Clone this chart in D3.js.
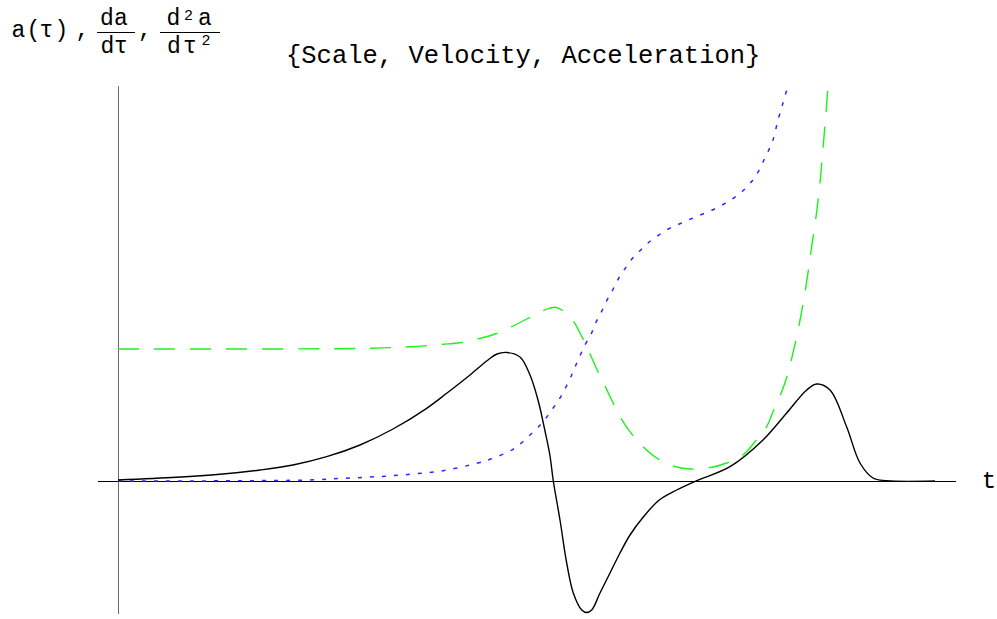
<!DOCTYPE html>
<html>
<head>
<meta charset="utf-8">
<script src="https://cdn.jsdelivr.net/npm/d3@7"></script>
<style>
  html, body { margin: 0; padding: 0; background: #fff; }
  svg text { font-family: "Liberation Mono", "Courier New", monospace; fill: #000; }
</style>
</head>
<body>
<svg id="chart" width="997" height="619"></svg>
<script>
// ---- data (arbitrary units) ----
const titleText = "{Scale, Velocity, Acceleration}";
const xAxisLabel = "t";

// black solid curve
const solidT = [0, 5.87, 10.2, 14.2, 17.5, 20.87, 24.2, 27.5, 30.87, 32.87, 35.2, 37, 37.9, 38.9, 40.2, 41.2, 42, 42.7, 43.2, 43.53, 44.2, 44.87, 45.53, 46.37, 46.87, 47.37, 48.2, 49.2, 50.2, 51.2, 52.53, 54.13, 55.87, 57.87, 61.2, 64.5, 66.87, 68.87, 69.87, 71.2, 72.87, 74.2, 75.5, 76.87, 81.7];
const solidV = [0.01, 0.037, 0.067, 0.11, 0.16, 0.243, 0.36, 0.52, 0.727, 0.877, 1.06, 1.21, 1.27, 1.285, 1.24, 1.06, 0.81, 0.5, 0.25, 0, -0.39, -0.82, -1.12, -1.29, -1.315, -1.29, -1.12, -0.92, -0.72, -0.54, -0.36, -0.19, -0.09, 0.003, 0.143, 0.41, 0.68, 0.91, 0.97, 0.91, 0.54, 0.18, 0.03, 0.003, 0];

// blue dotted curve
const dottedT = [0, 19.2, 22.5, 25.87, 29.2, 32.5, 35.87, 37.2, 39.5, 41.2, 42.5, 43.5, 44.37, 45.37, 45.87, 46.7, 47.37, 47.8, 48.37, 48.87, 49.47, 50.03, 50.7, 51.37, 52.2, 53.03, 54.03, 55.03, 56.13, 57.2, 58.3, 59.43, 60.53, 61.53, 62.47, 63.3, 63.97, 64.5, 65, 65.5, 66, 66.5, 66.9];
const dottedV = [0, 0.01, 0.027, 0.043, 0.067, 0.103, 0.177, 0.217, 0.317, 0.46, 0.593, 0.727, 0.86, 1.06, 1.177, 1.36, 1.483, 1.587, 1.697, 1.803, 1.91, 2.02, 2.123, 2.217, 2.303, 2.383, 2.457, 2.52, 2.57, 2.617, 2.663, 2.71, 2.767, 2.827, 2.9, 2.987, 3.083, 3.19, 3.293, 3.41, 3.61, 3.78, 3.92];

// green dashed curve
const dashedT = [0, 25.2, 29.2, 32.5, 34.2, 35.87, 37.7, 39.37, 40.87, 42.5, 43.7, 44.37, 45.5, 46.2, 46.87, 47.87, 48.7, 49.37, 50.2, 51.2, 52.5, 53.87, 55.5, 57.2, 59, 60.87, 62.5, 63.7, 64.87, 65.5, 66.37, 66.85, 67.5, 68.27, 68.87, 69.37, 69.87, 70.2, 70.5, 70.8, 71];
const dashedV = [1.32, 1.327, 1.343, 1.367, 1.383, 1.417, 1.47, 1.543, 1.62, 1.703, 1.737, 1.71, 1.603, 1.48, 1.343, 1.12, 0.95, 0.81, 0.643, 0.493, 0.343, 0.23, 0.15, 0.12, 0.13, 0.18, 0.26, 0.393, 0.543, 0.693, 0.893, 1.03, 1.28, 1.643, 1.993, 2.343, 2.693, 2.98, 3.33, 3.68, 3.96];

// ---- drawing ----
const svg = d3.select("#chart");
const x = d3.scaleLinear().domain([0, 81.7]).range([118, 935]);
const y = d3.scaleLinear().domain([-1.32, 3.96]).range([613, 85]);

// axes (no ticks, Mathematica style crossing at origin)
const xAxisScale = d3.scaleLinear().domain([-2.1, 83.7]).range([x(-2.1), x(83.7)]);
svg.append("g")
  .attr("transform", `translate(0,${y(0)})`)
  .call(d3.axisBottom(xAxisScale).tickValues([]).tickSizeOuter(0))
  .call(g => g.select(".domain").attr("stroke", "#000").attr("stroke-width", 1).attr("shape-rendering", "crispEdges"));

svg.append("g")
  .attr("transform", `translate(${x(0)},0)`)
  .call(d3.axisLeft(y).tickValues([]).tickSizeOuter(0))
  .call(g => g.select(".domain").attr("stroke", "#6a6a6a").attr("stroke-width", 1).attr("shape-rendering", "crispEdges"));

const line = d3.line()
  .x(d => x(d[0]))
  .y(d => y(d[1]))
  .curve(d3.curveCatmullRom.alpha(0.5));

const zip = (a, b) => a.map((v, i) => [v, b[i]]);

svg.append("path")
  .datum(zip(dashedT, dashedV))
  .attr("d", line)
  .attr("fill", "none")
  .attr("stroke", "#1cf21c")
  .attr("stroke-width", 1.4)
  .attr("stroke-dasharray", "21,15");

svg.append("path")
  .datum(zip(dottedT, dottedV))
  .attr("d", line)
  .attr("fill", "none")
  .attr("stroke", "#3322ff")
  .attr("stroke-width", 1.5)
  .attr("stroke-dasharray", "4,8");

svg.append("path")
  .datum(zip(solidT, solidV))
  .attr("d", line)
  .attr("fill", "none")
  .attr("stroke", "#000")
  .attr("stroke-width", 1.4);

// x axis label
svg.append("text")
  .attr("x", 989).attr("y", 488)
  .attr("text-anchor", "middle")
  .attr("font-size", 24)
  .text(xAxisLabel);

// title
svg.append("text")
  .attr("x", 286).attr("y", 63)
  .attr("font-size", 25.5)
  .text(titleText);

// y axis label: a(τ), da/dτ, d²a/dτ²
const lab = svg.append("g");
const put = (t, cx, by, fs) => lab.append("text")
  .attr("x", cx).attr("y", by).attr("text-anchor", "middle")
  .attr("font-size", fs).text(t);
put("a", 18.3, 36.5, 23);
put("(", 33.3, 36.5, 23);
put("τ", 46.5, 36.5, 23);
put(")", 61.5, 36.5, 23);
put(",", 82.5, 36.5, 23);
// fraction 1
put("d", 107, 25, 23);
put("a", 121, 25, 23);
lab.append("line").attr("x1", 97).attr("x2", 135).attr("y1", 32.5).attr("y2", 32.5)
  .attr("stroke", "#000").attr("stroke-width", 1);
put("d", 107.5, 52.5, 23);
put("τ", 121, 52.5, 23);
put(",", 145, 37, 23);
// fraction 2
put("d", 173.5, 25, 23);
put("2", 188.5, 20, 15);
put("a", 205, 25, 23);
lab.append("line").attr("x1", 160).attr("x2", 220).attr("y1", 32.5).attr("y2", 32.5)
  .attr("stroke", "#000").attr("stroke-width", 1);
put("d", 174, 52.5, 23);
put("τ", 190, 52.5, 23);
put("2", 206, 45, 15);
</script>
</body>
</html>
